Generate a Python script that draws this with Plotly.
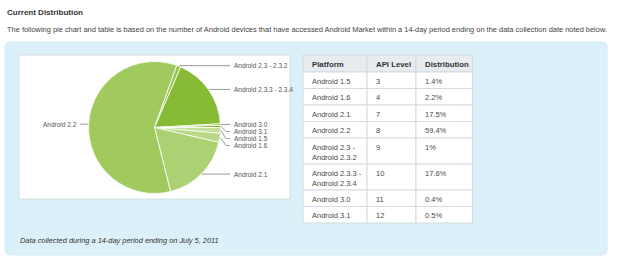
import math
import plotly.graph_objects as go

W, H = 625, 268

# ---------------- data ----------------
pie_labels = ["Android 1.5", "Android 1.6", "Android 2.1", "Android 2.2",
              "Android 2.3 - 2.3.2", "Android 2.3.3 - 2.3.4", "Android 3.0", "Android 3.1"]
platforms = ["Android 1.5", "Android 1.6", "Android 2.1", "Android 2.2",
             "Android 2.3 -<br>Android 2.3.2", "Android 2.3.3 -<br>Android 2.3.4",
             "Android 3.0", "Android 3.1"]
api_levels = [3, 4, 7, 8, 9, 10, 11, 12]
distribution = [1.4, 2.2, 17.5, 59.4, 1.0, 17.6, 0.4, 0.5]
dist_text = ["1.4%", "2.2%", "17.5%", "59.4%", "1%", "17.6%", "0.4%", "0.5%"]
table_header = ["Platform", "API Level", "Distribution"]

title_text = "Current Distribution"
intro_text = ("The following pie chart and table is based on the number of Android devices "
              "that have accessed Android Market within a 14-day period ending on the data "
              "collection date noted below.")
caption_text = "Data collected during a 14-day period ending on July 5, 2011"

# ---------------- style ----------------
slice_colors = ["#C4DF9B", "#B8D887", "#ACD172", "#A0CA5E",
                "#94C24A", "#87BB35", "#7BB421", "#6FAD0C"]
FONT = "Arial, 'Liberation Sans', sans-serif"

def px(x):
    return x / W

def py(y):
    return 1 - y / H

CX, CY, R = 154.5, 127.5, 66

fig = go.Figure()

fig.add_trace(go.Pie(
    labels=pie_labels, values=distribution, sort=False, direction="clockwise",
    rotation=90, textinfo="none", hoverinfo="label+percent", showlegend=False,
    marker=dict(colors=slice_colors, line=dict(color="#F4F9EE", width=1)),
    domain=dict(x=[px(CX - R), px(CX + R)], y=[py(CY + R), py(CY - R)]),
))

shapes = []
annotations = []

# blue box with rounded corners
x0, x1, y0, y1, r = px(5), px(607), py(42), py(255), 6
rx, ry = r / W, r / H
path = (f"M {x0+rx},{y0} L {x1-rx},{y0} Q {x1},{y0} {x1},{y0-ry} "
        f"L {x1},{y1+ry} Q {x1},{y1} {x1-rx},{y1} L {x0+rx},{y1} "
        f"Q {x0},{y1} {x0},{y1+ry} L {x0},{y0-ry} Q {x0},{y0} {x0+rx},{y0} Z")
shapes.append(dict(type="path", xref="paper", yref="paper", path=path,
                   fillcolor="#DCF0F9", line=dict(color="#D2EAF5", width=1), layer="below"))
# white chart panel
shapes.append(dict(type="rect", xref="paper", yref="paper",
                   x0=px(19), x1=px(290), y0=py(55), y1=py(199),
                   fillcolor="white", line=dict(color="#D5DEE2", width=1), layer="below"))

# ---- pie labels with leader lines computed from the slice angles ----
total = sum(distribution)
cum = 0.0
right, left = [], []
for lab, v in zip(pie_labels, distribution):
    mid = (cum + v / 2) / total
    cum += v
    ang = math.radians(-360 * mid)  # start at 3 o'clock, clockwise
    ex = CX + (R + 0.5) * math.cos(ang)
    ey = CY - (R + 0.5) * math.sin(ang)
    (right if math.cos(ang) >= 0 else left).append([lab, ex, ey, ey])

right.sort(key=lambda t: t[2])
for i in range(1, len(right)):
    right[i][3] = max(right[i][3], right[i - 1][3] + 7)

LABEL_FONT = dict(family=FONT, size=6.5, color="#555555")
for lab, ex, ey, ly in right:
    if abs(ly - ey) < 0.6:
        pts = [(ex, ey), (230, ly)]
    else:
        pts = [(ex, ey), (226, ly), (230, ly)]
    for (ax, ay), (bx, by) in zip(pts[:-1], pts[1:]):
        shapes.append(dict(type="line", xref="paper", yref="paper",
                           x0=px(ax), y0=py(ay), x1=px(bx), y1=py(by),
                           line=dict(color="#9A9A9A", width=1)))
    annotations.append(dict(text=lab, x=px(231.5), y=py(ly), xref="paper", yref="paper",
                            xanchor="left", yanchor="middle", showarrow=False, font=LABEL_FONT))

for lab, ex, ey, ly in left:
    shapes.append(dict(type="line", xref="paper", yref="paper",
                       x0=px(ex), y0=py(ey), x1=px(80), y1=py(ly),
                       line=dict(color="#9A9A9A", width=1)))
    annotations.append(dict(text=lab, x=px(79), y=py(ly), xref="paper", yref="paper",
                            xanchor="right", yanchor="middle", showarrow=False, font=LABEL_FONT))

# ---- table drawn from the data lists ----
col_edges = [303, 367, 416, 472.5]
TABLE_TOP = 55
HEADER_H = 17
ROW_H_1 = 16.5
ROW_H_2 = 26
LINE_COLOR = "#D3DBE0"
table_rows = list(zip(platforms, api_levels, dist_text))

def cell(xa, xb, ya, yb, fill):
    shapes.append(dict(type="rect", xref="paper", yref="paper",
                       x0=px(xa), x1=px(xb), y0=py(ya), y1=py(yb),
                       fillcolor=fill, line=dict(color=LINE_COLOR, width=1), layer="below"))

def cell_text(txt, xa, ya, font):
    annotations.append(dict(text=txt, x=px(xa + 6.5), y=py(ya + 2.5), xref="paper", yref="paper",
                            xanchor="left", yanchor="top", align="left", showarrow=False,
                            font=font))

HEAD_FONT = dict(family=FONT, size=7.8, color="#333333")
CELL_FONT = dict(family=FONT, size=7.5, color="#4A4A4A")

ytop = TABLE_TOP
for j, h in enumerate(table_header):
    cell(col_edges[j], col_edges[j + 1], ytop, ytop + HEADER_H, "#E6ECF0")
    cell_text(f"<b>{h}</b>", col_edges[j], ytop, HEAD_FONT)
ytop += HEADER_H
for row in table_rows:
    nlines = max(str(v).count("<br>") + 1 for v in row)
    rh = ROW_H_1 if nlines == 1 else ROW_H_2
    for j, v in enumerate(row):
        cell(col_edges[j], col_edges[j + 1], ytop, ytop + rh, "white")
        cell_text(str(v), col_edges[j], ytop, CELL_FONT)
    ytop += rh

# ---- page texts ----
annotations.append(dict(text=f"<b>{title_text}</b>", x=px(5), y=py(13), xref="paper", yref="paper",
                        xanchor="left", yanchor="middle", showarrow=False,
                        font=dict(family=FONT, size=8, color="#333333")))
annotations.append(dict(text=intro_text, x=px(5), y=py(30), xref="paper", yref="paper",
                        xanchor="left", yanchor="middle", showarrow=False,
                        font=dict(family=FONT, size=7.45, color="#444444")))
annotations.append(dict(text=f"<i>{caption_text}</i>", x=px(18), y=py(240), xref="paper", yref="paper",
                        xanchor="left", yanchor="middle", showarrow=False,
                        font=dict(family=FONT, size=7.4, color="#333333")))

fig.update_layout(
    width=W, height=H, margin=dict(l=0, r=0, t=0, b=0),
    paper_bgcolor="white", plot_bgcolor="white",
    shapes=shapes, annotations=annotations,
)

fig.write_html("out.html")
